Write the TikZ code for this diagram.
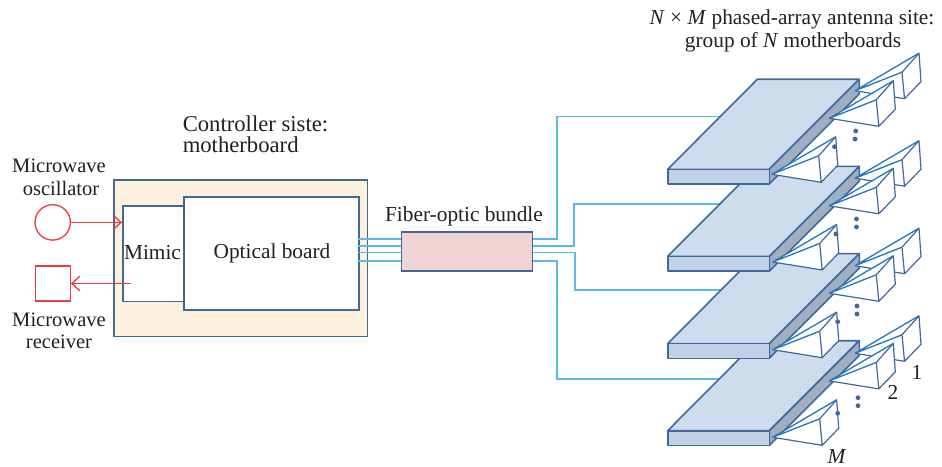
\documentclass[tikz,border=0pt]{standalone}
\usepackage{fontspec}
\setmainfont{Liberation Serif}
\usetikzlibrary{arrows.meta}
\definecolor{txt}{HTML}{231F20}
\definecolor{edge}{HTML}{41689A}
\definecolor{hornblue}{HTML}{2A78BC}
\definecolor{fiber}{HTML}{5CB9E6}
\definecolor{redl}{HTML}{EE3A43}
\definecolor{topf}{HTML}{CDDDEE}
\definecolor{frontf}{HTML}{BFD2E8}
\definecolor{sidef}{HTML}{A0AEC1}
\definecolor{creamf}{HTML}{FDF0DD}
\definecolor{pinkf}{HTML}{F0D3D4}
\tikzset{
  lab/.style={text=txt,font=\fontsize{16pt}{18pt}\selectfont,inner sep=0pt,align=center},
  labmw/.style={lab,font=\fontsize{15.4pt}{18pt}\selectfont},
  labct/.style={lab,font=\fontsize{17pt}{19pt}\selectfont,anchor=west},
  boxn/.style={draw=edge,line width=1.25pt,inner sep=0pt,anchor=north west},
  redline/.style={draw=redl,line width=1pt},
  redarrow/.style={redline,-{Straight Barb[length=6pt,width=11pt]}},
  fib/.style={draw=fiber,line width=1.1pt},
  bface/.style={draw=edge,line width=1.2pt,line join=round},
  hornfill/.style={fill=white,draw=none},
  hornedge/.style={draw=edge,line width=.9pt,line join=round},
  hornray/.style={draw=hornblue,line width=1pt},
  dotn/.style={circle,fill=edge,inner sep=0pt,minimum size=3.6pt}
}
\newcommand{\myhorn}[2]{%
  \begin{scope}[shift={(#1,#2)}]
    \fill[hornfill] (0,0) -- (64,-37.5) -- (66,-9) -- (49.5,8) -- cycle;
    \draw[hornedge] (0,0) -- (49.5,8) -- (66,-9) -- (64,-37.5) -- (47,-18.5) -- (49.5,8);
    \draw[hornray] (47,-18.5) -- (0,0) -- (64,-37.5);
  \end{scope}}
\newcommand{\myboard}[1]{%
  \begin{scope}[shift={(0,#1)}]
    \filldraw[bface,fill=topf] (667.7,169.3) -- (757.3,79.3) -- (859.3,79.3) -- (769.3,169.3) -- cycle;
    \filldraw[bface,fill=sidef] (769.3,169.3) -- (859.3,79.3) -- (859.3,94) -- (769.3,184) -- cycle;
    \filldraw[bface,fill=frontf] (667.7,169.3) rectangle (769.3,184);
  \end{scope}}
\begin{document}
\begin{tikzpicture}[x=0.75pt,y=-0.75pt]
\useasboundingbox (0,0) rectangle (942,467);

% controller
\node[boxn,fill=creamf,minimum width=253.5*0.75pt,minimum height=156.5*0.75pt] (ctrl) at (113.3,179) {};
\node[boxn,fill=white,minimum width=61*0.75pt,minimum height=95.7*0.75pt] (mimicbox) at (122,205) {};
\node[boxn,fill=white,minimum width=175*0.75pt,minimum height=113.3*0.75pt] (optbox) at (183,196) {};
\node[lab] (mimic) at (152.5,252.5) {Mimic};
\node[lab] (optical) at (272,253.5) {Optical board};
\node[labct] (ct1) at (182.5,124) {Controller siste:};
\node[labct] (ct2) at (182.5,145) {motherboard};

% microwave
\node[circle,redline,fill=white,minimum size=35.4*0.75pt,inner sep=0pt] (osc) at (52.7,222.4) {};
\node[rectangle,redline,fill=white,minimum size=35*0.75pt,inner sep=0pt] (rcv) at (52.7,283.5) {};
\coordinate (rcvstart) at (131,283.5);
\coordinate (mimicin) at (122,222.4);
\draw[redarrow] (osc.east) -- (mimicin);
\draw[redarrow] (rcvstart) -- (rcv.east);
\node[labmw] (mo1) at (59,166) {Microwave};
\node[labmw] (mo2) at (61,188) {oscillator};
\node[labmw] (mr1) at (59,320) {Microwave};
\node[labmw] (mr2) at (59,342) {receiver};

% fibre box
\coordinate (optA) at (358,239);
\coordinate (optB) at (358,246);
\coordinate (optC) at (358,252.7);
\coordinate (optD) at (358,261);
\coordinate (bdA) at (725,116.7);
\coordinate (bdB) at (725,204);
\coordinate (bdC) at (725,290);
\coordinate (bdD) at (725,379);
\node[boxn,fill=pinkf,minimum width=131*0.75pt,minimum height=39.3*0.75pt] (fibbox) at (400.7,231) {};
\node[lab] (fiblab) at (464,216.5) {Fiber-optic bundle};
\foreach \p in {optA,optB,optC,optD} \draw[fib] (\p) -- (\p -| fibbox.west);
\draw[fib] (fibbox.east |- optA) -- (557,239) -- (557,116.7) -- (bdA);
\draw[fib] (fibbox.east |- optB) -- (574,246) -- (574,204) -- (bdB);
\draw[fib] (fibbox.east |- optC) -- (575,252.7) -- (575,290) -- (bdC);
\draw[fib] (fibbox.east |- optD) -- (557,261) -- (557,379) -- (bdD);

% boards, bottom to top
\myboard{261.4}
\myhorn{855}{353.3}\myhorn{829.3}{380.9}\myhorn{772.7}{437.3}
\node[dotn] (d41) at (837.7,413.3) {};
\node[dotn] (d42) at (858,397.7) {};
\node[dotn] (d43) at (858,405.7) {};
\myboard{174.3}
\myhorn{855}{265.7}\myhorn{829.3}{293.3}\myhorn{772.7}{349.7}
\node[dotn] (d31) at (837.7,321.7) {};
\node[dotn] (d32) at (857,306) {};
\node[dotn] (d33) at (857,314) {};
\myboard{87.1}
\myhorn{855}{178.2}\myhorn{829.3}{205.8}\myhorn{772.7}{262}
\node[dotn] (d21) at (836,234) {};
\node[dotn] (d22) at (856.5,219) {};
\node[dotn] (d23) at (856.5,227) {};
\myboard{0}
\myhorn{855}{90.7}\myhorn{829.3}{118.3}\myhorn{771.7}{174.3}
\node[dotn] (d11) at (834.5,146.7) {};
\node[dotn] (d12) at (855.7,131) {};
\node[dotn] (d13) at (855,139) {};

% labels
\node[lab] (t1) at (792,19) {\textit{N} × \textit{M} phased-array antenna site:};
\node[lab] (t2) at (793,42) {group of \textit{N} motherboards};
\node[lab] (n1) at (917,372) {1};
\node[lab] (n2) at (893,392) {2};
\node[lab] (nm) at (837,457) {\textit{M}};
\end{tikzpicture}
\end{document}
